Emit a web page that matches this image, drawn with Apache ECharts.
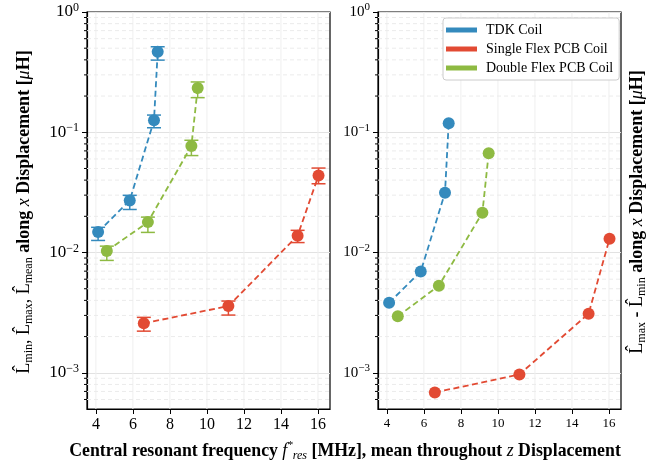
<!DOCTYPE html>
<html lang="en">
  <head>
    <meta charset="UTF-8" />
    <title>Inductance vs resonant frequency</title>
    <script src="https://cdn.jsdelivr.net/npm/echarts@6/dist/echarts.min.js"></script>
    <style>
      html, body { margin: 0; padding: 0; background: #fff; }
      #main { width: 661px; height: 468px; }
    </style>
  </head>
  <body>
    <div id="main"></div>
    <script>
      const SERIF = "'Liberation Serif', 'DejaVu Serif', serif";

      const coilNames = ["TDK Coil", "Single Flex PCB Coil", "Double Flex PCB Coil"];
      const coilColors = ["#348ABD", "#E24A33", "#8EBA42"];

      // mean resonant frequency [MHz]
      const xTdk = [4.12, 5.83, 7.14, 7.34];
      const xSingle = [6.59, 11.16, 14.9, 16.03];
      const xDouble = [4.59, 6.81, 9.16, 9.5];

      // left panel: mean with min / max
      const tdkMean = [0.0148, 0.0271, 0.126, 0.467];
      const tdkMin = [0.0126, 0.0228, 0.109, 0.398];
      const tdkMax = [0.0162, 0.0299, 0.139, 0.514];

      const singleMean = [0.00258, 0.00359, 0.0138, 0.0438];
      const singleMin = [0.00222, 0.00302, 0.0121, 0.0373];
      const singleMax = [0.00289, 0.00395, 0.0153, 0.0504];

      const doubleMean = [0.0103, 0.0179, 0.0769, 0.233];
      const doubleMin = [0.0086, 0.0147, 0.064, 0.194];
      const doubleMax = [0.0113, 0.0197, 0.0858, 0.262];

      // right panel: max - min
      const tdkRange = [0.00383, 0.00695, 0.0314, 0.119];
      const singleRange = [0.000686, 0.00097, 0.0031, 0.013];
      const doubleRange = [0.00295, 0.0053, 0.0214, 0.0668];

      const xTicks = [4, 6, 8, 10, 12, 14, 16];
      const minorY = [
        6e-4, 7e-4, 8e-4, 9e-4,
        2e-3, 3e-3, 4e-3, 5e-3, 6e-3, 7e-3, 8e-3, 9e-3,
        2e-2, 3e-2, 4e-2, 5e-2, 6e-2, 7e-2, 8e-2, 9e-2,
        0.2, 0.3, 0.4, 0.5, 0.6, 0.7, 0.8, 0.9,
      ];
      const X_MIN = 3.52, X_MAX = 16.65, Y_MIN = 0.0005, Y_MAX = 1;

      const zip = (xs, ...cols) => xs.map((x, i) => [x, ...cols.map((c) => c[i])]);

      const chart = echarts.init(document.getElementById("main"), null, { renderer: "canvas" });

      function errRender(params, api) {
        const x = api.value(0);
        const lo = api.coord([x, api.value(1)]);
        const hi = api.coord([x, api.value(2)]);
        const w = 7;
        const style = { stroke: api.visual("color"), lineWidth: 1.5 };
        return {
          type: "group",
          children: [
            { type: "line", shape: { x1: lo[0], y1: lo[1], x2: hi[0], y2: hi[1] }, style },
            { type: "line", shape: { x1: lo[0] - w, y1: lo[1], x2: lo[0] + w, y2: lo[1] }, style },
            { type: "line", shape: { x1: hi[0] - w, y1: hi[1], x2: hi[0] + w, y2: hi[1] }, style },
          ],
        };
      }

      function minorRender(params, api) {
        const cs = params.coordSys;
        const y = api.coord([api.value(0), api.value(1)])[1];
        return {
          type: "group",
          children: [
            { type: "line", shape: { x1: cs.x, y1: y, x2: cs.x + cs.width, y2: y }, style: { stroke: "#ebebeb", lineWidth: 1, lineDash: [4, 3] } },
            { type: "line", shape: { x1: cs.x - 3, y1: y, x2: cs.x, y2: y }, style: { stroke: "#000", lineWidth: 1 } },
          ],
        };
      }

      function vgridRender(params, api) {
        const cs = params.coordSys;
        const x = api.coord([api.value(0), api.value(1)])[0];
        return { type: "line", shape: { x1: x, y1: cs.y, x2: x, y2: cs.y + cs.height }, style: { stroke: "#efefef", lineWidth: 1 } };
      }

      function yLabel(v) {
        const l = Math.log10(v);
        const e = Math.round(l);
        if (Math.abs(l - e) > 0.01) return "";
        return "{b|10}{s|" + (e === 0 ? "0" : "\u2212" + -e) + "}";
      }

      function xAxisCfg(idx, fs) {
        return {
          type: "value", gridIndex: idx, min: X_MIN, max: X_MAX,
          axisLine: { lineStyle: { color: "#000", width: 1.2 } },
          axisTick: { customValues: xTicks, length: 5, lineStyle: { color: "#000" } },
          axisLabel: { customValues: xTicks, color: "#000", fontFamily: SERIF, fontSize: fs, margin: 8 },
          splitLine: { show: false },
        };
      }

      function yAxisCfg(idx, fs, sfs) {
        return {
          type: "log", gridIndex: idx, min: Y_MIN, max: Y_MAX, logBase: 10,
          axisLine: { show: true, lineStyle: { color: "#000", width: 1.2 } },
          axisTick: { length: 5, lineStyle: { color: "#000" } },
          axisLabel: {
            color: "#000", margin: 8, showMinLabel: false, formatter: yLabel,
            rich: {
              b: { fontFamily: SERIF, fontSize: fs, lineHeight: 20, color: "#000" },
              s: { fontFamily: SERIF, fontSize: sfs, lineHeight: 10, verticalAlign: "top", color: "#000" },
            },
          },
          splitLine: { show: true, lineStyle: { color: "#e2e2e2", width: 1 } },
        };
      }

      const meanSets = [
        [xTdk, tdkMean, tdkMin, tdkMax],
        [xSingle, singleMean, singleMin, singleMax],
        [xDouble, doubleMean, doubleMin, doubleMax],
      ];
      const rangeSets = [
        [xTdk, tdkRange],
        [xSingle, singleRange],
        [xDouble, doubleRange],
      ];

      const series = [];
      [0, 1].forEach((g) => {
        series.push({
          type: "custom", xAxisIndex: g, yAxisIndex: g, z: 1, silent: true,
          renderItem: vgridRender, data: xTicks.map((v) => [v, Y_MAX]),
        });
        series.push({
          type: "custom", xAxisIndex: g, yAxisIndex: g, z: 1, silent: true,
          renderItem: minorRender, data: minorY.map((v) => [X_MIN, v]),
        });
      });

      const lineCfg = (name, color, g, data) => ({
        name, type: "line", xAxisIndex: g, yAxisIndex: g, z: 4,
        data, symbol: "circle", symbolSize: 12,
        itemStyle: { color },
        lineStyle: { color, width: 1.8, type: [6, 3.5] },
      });

      meanSets.forEach(([xs, mean, mn, mx], i) => {
        series.push({
          type: "custom", xAxisIndex: 0, yAxisIndex: 0, z: 3,
          itemStyle: { color: coilColors[i] },
          encode: { x: 0, y: [1, 2] },
          renderItem: errRender, data: zip(xs, mn, mx),
        });
        series.push(lineCfg(coilNames[i], coilColors[i], 0, zip(xs, mean)));
      });
      rangeSets.forEach(([xs, rng], i) => {
        series.push(lineCfg(coilNames[i], coilColors[i], 1, zip(xs, rng)));
      });

      const nameRich = {
        m: { fontFamily: SERIF, fontSize: 18, lineHeight: 22, color: "#000" },
        s: { fontFamily: SERIF, fontSize: 12, lineHeight: 11, verticalAlign: "bottom", color: "#000" },
        b: { fontFamily: SERIF, fontSize: 18, fontWeight: "bold", lineHeight: 22, color: "#000" },
        i: { fontFamily: SERIF, fontSize: 18, fontStyle: "italic", lineHeight: 22, color: "#000" },
        sup: { fontFamily: SERIF, fontSize: 11, fontStyle: "italic", lineHeight: 10, verticalAlign: "top", color: "#000" },
        xb: { fontFamily: SERIF, fontSize: 17.8, fontWeight: "bold", lineHeight: 22, color: "#000" },
        xi: { fontFamily: SERIF, fontSize: 17.8, fontStyle: "italic", lineHeight: 22, color: "#000" },
        xs: { fontFamily: SERIF, fontSize: 12, fontStyle: "italic", lineHeight: 10, verticalAlign: "bottom", color: "#000" },
      };

      const option = {
        animation: false,
        backgroundColor: "#fff",
        grid: [
          { left: 87, top: 12, width: 243, height: 397, show: true, borderColor: "#000", borderWidth: 1.2, backgroundColor: "transparent" },
          { left: 378, top: 12, width: 243, height: 397, show: true, borderColor: "#000", borderWidth: 1.2, backgroundColor: "transparent" },
        ],
        xAxis: [xAxisCfg(0, 16), xAxisCfg(1, 13)],
        yAxis: [yAxisCfg(0, 17, 12), yAxisCfg(1, 15, 11)],
        legend: {
          data: coilNames, orient: "vertical", left: 443, top: 18,
          icon: "rect", itemWidth: 31, itemHeight: 5, itemGap: 5,
          padding: [5, 6, 5, 3],
          borderColor: "#cccccc", borderWidth: 1, borderRadius: 3, backgroundColor: "#fff",
          textStyle: { fontFamily: SERIF, fontSize: 14, color: "#000", padding: [0, 0, 0, 4] },
        },
        graphic: [
          {
            type: "text", x: 24, y: 212, rotation: Math.PI / 2,
            style: {
              text: "{m|L\u0302}{s|min}{m|, L\u0302}{s|max}{m|, L\u0302}{s|mean}{b| along }{i|x}{b| Displacement [}{i|\u03bc}{b|H]}",
              align: "center", verticalAlign: "middle", rich: nameRich,
            },
          },
          {
            type: "text", x: 637, y: 212, rotation: Math.PI / 2,
            style: {
              text: "{m|L\u0302}{s|max}{b| - }{m|L\u0302}{s|min}{b| along }{i|x}{b| Displacement [}{i|\u03bc}{b|H]}",
              align: "center", verticalAlign: "middle", rich: nameRich,
            },
          },
          {
            type: "text", x: 345, y: 451,
            style: {
              text: "{xb|Central resonant frequency }{xi|f}{sup|*}{xs|res}{xb| [MHz], mean throughout }{xi|z}{xb| Displacement}",
              align: "center", verticalAlign: "middle", rich: nameRich,
            },
          },
        ],
        series,
      };

      chart.setOption(option);
    </script>
  </body>
</html>
